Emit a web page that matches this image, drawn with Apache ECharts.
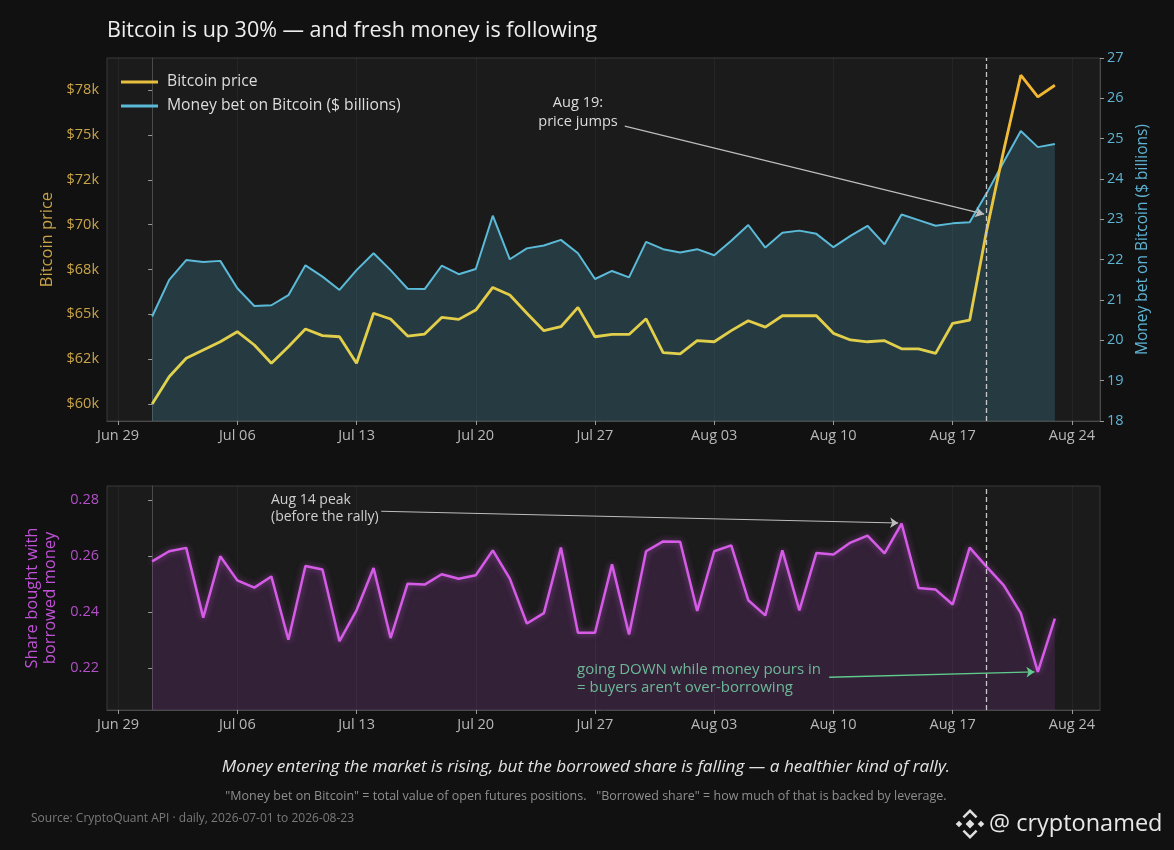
<!DOCTYPE html>
<html><head><meta charset="utf-8">
<script src="https://cdn.jsdelivr.net/npm/echarts@6/dist/echarts.min.js"></script>
<style>html,body{margin:0;padding:0;background:#111111;}#c{width:1174px;height:850px;}</style>
</head><body><div id="c"></div>
<script>
// x positions are day offsets from 2026-07-01
const tickDays = [-2, 5, 12, 19, 26, 33, 40, 47, 54];
const tickLabels = ['Jun 29', 'Jul 06', 'Jul 13', 'Jul 20', 'Jul 27', 'Aug 03', 'Aug 10', 'Aug 17', 'Aug 24'];

const price = [60000, 61520, 62550, 63010, 63470, 64030, 63290, 62270, 63190, 64180,
  63810, 63750, 62270, 65060, 64740, 63790, 63900, 64830, 64720, 65240,
  66500, 66080, 65060, 64090, 64310, 65390, 63750, 63880, 63880, 64750,
  62860, 62790, 63530, 63470, 64090, 64640, 64290, 64920, 64920, 64920,
  63940, 63570, 63470, 63530, 63080, 63070, 62820, 64500, 64680, 69700,
  74160, 78340, 77130, 77780];

const moneyBet = [20.59, 21.50, 21.99, 21.94, 21.97, 21.29, 20.85, 20.87, 21.12, 21.86,
  21.58, 21.25, 21.74, 22.16, 21.74, 21.28, 21.27, 21.85, 21.64, 21.77,
  23.09, 22.01, 22.28, 22.35, 22.49, 22.16, 21.52, 21.72, 21.56, 22.44,
  22.26, 22.18, 22.26, 22.11, 22.47, 22.86, 22.30, 22.67, 22.72, 22.64,
  22.31, 22.59, 22.84, 22.38, 23.12, 22.98, 22.84, 22.90, 22.93, 23.65,
  24.43, 25.19, 24.79, 24.87];

const borrowedShare = [0.2581, 0.2617, 0.2629, 0.2380, 0.2599, 0.2513, 0.2487, 0.2527, 0.2301, 0.2564,
  0.2552, 0.2296, 0.2406, 0.2557, 0.2307, 0.2501, 0.2498, 0.2535, 0.2519, 0.2531,
  0.2620, 0.2519, 0.2359, 0.2396, 0.2630, 0.2326, 0.2326, 0.2570, 0.2320, 0.2617,
  0.2652, 0.2651, 0.2404, 0.2617, 0.2638, 0.2442, 0.2388, 0.2620, 0.2406, 0.2611,
  0.2605, 0.2648, 0.2673, 0.2609, 0.2716, 0.2486, 0.2480, 0.2427, 0.2630, 0.2561,
  0.2495, 0.2396, 0.2186, 0.2376];

const priceTicks = [60000, 62500, 65000, 67500, 70000, 72500, 75000, 77500];
const priceTickLabels = ['$60k', '$62k', '$65k', '$68k', '$70k', '$72k', '$75k', '$78k'];
const shareTicks = [0.22, 0.24, 0.26, 0.28];
const shareTickLabels = ['0.22', '0.24', '0.26', '0.28'];

const eventDay = 49; // Aug 19

const FONT = 'Open Sans';
const TICK_FS = 14.5;
const pts = arr => arr.map((v, i) => [i, v]);
const findLabel = (ticks, labels, v) => {
  for (let i = 0; i < ticks.length; i++) if (Math.abs(ticks[i] - v) < 1e-6 * Math.max(1, Math.abs(v))) return labels[i];
  return '';
};

function xAxis(gridIndex) {
  return {
    type: 'value', gridIndex, min: -2.65, max: 55.65,
    axisLine: { show: true, lineStyle: { color: '#4a4a4a' } },
    axisTick: { show: true, customValues: tickDays, length: 4, lineStyle: { color: '#9a9a9a' } },
    axisLabel: { customValues: tickDays, formatter: v => findLabel(tickDays, tickLabels, v), color: '#b8b8b8', fontSize: TICK_FS, fontFamily: FONT, margin: 7 },
    splitLine: { show: true, customValues: tickDays, lineStyle: { color: 'rgba(255,255,255,0.045)', width: 1 } }
  };
}

const chart = echarts.init(document.getElementById('c'), null, { renderer: 'canvas' });

const option = {
  backgroundColor: '#111111',
  animation: false,
  textStyle: { fontFamily: FONT },
  grid: [
    { left: 107, top: 58, width: 993, height: 363, show: true, backgroundColor: '#1b1b1b', borderColor: '#3a3a3a', borderWidth: 1 },
    { left: 107, top: 486, width: 993, height: 224, show: true, backgroundColor: '#1b1b1b', borderColor: '#3a3a3a', borderWidth: 1 }
  ],
  legend: {
    left: 116, top: 69, orient: 'vertical', itemGap: 8, itemWidth: 37, itemHeight: 3,
    icon: 'rect',
    textStyle: { color: '#dddddd', fontSize: 15.7, fontFamily: FONT, padding: [0, 0, 0, 4] },
    data: [
      { name: 'Bitcoin price', itemStyle: { color: '#e9bf3e' } },
      { name: 'Money bet on Bitcoin ($ billions)', itemStyle: { color: '#5bbad8' } }
    ]
  },
  xAxis: [xAxis(0), xAxis(1)],
  yAxis: [
    {
      type: 'value', gridIndex: 0, position: 'left', min: 59050, max: 79300,
      axisLine: { show: true, lineStyle: { color: '#4a4a4a' } },
      axisTick: { show: true, customValues: priceTicks, length: 4, lineStyle: { color: '#9a9a9a' } },
      axisLabel: { customValues: priceTicks, formatter: v => findLabel(priceTicks, priceTickLabels, v), color: '#c9a448', fontSize: TICK_FS, fontFamily: FONT, margin: 8 },
      splitLine: { show: false },
      name: 'Bitcoin price', nameLocation: 'middle', nameGap: 49, nameRotate: 90,
      nameTextStyle: { color: '#c9a448', fontSize: 16.5, fontFamily: FONT }
    },
    {
      type: 'value', gridIndex: 0, position: 'right', min: 18, max: 27, interval: 1,
      axisLine: { show: true, lineStyle: { color: '#4a4a4a' } },
      axisTick: { show: true, length: 4, lineStyle: { color: '#9a9a9a' } },
      axisLabel: { color: '#5fb3d3', fontSize: TICK_FS, fontFamily: FONT, margin: 7 },
      splitLine: { show: false },
      name: 'Money bet on Bitcoin ($ billions)', nameLocation: 'middle', nameGap: 31, nameRotate: 90,
      nameTextStyle: { color: '#5fb3d3', fontSize: 15.5, fontFamily: FONT }
    },
    {
      type: 'value', gridIndex: 1, position: 'left', min: 0.205, max: 0.285,
      axisLine: { show: true, lineStyle: { color: '#4a4a4a' } },
      axisTick: { show: true, customValues: shareTicks, length: 4, lineStyle: { color: '#9a9a9a' } },
      axisLabel: { customValues: shareTicks, formatter: v => findLabel(shareTicks, shareTickLabels, v), color: '#b34fc8', fontSize: TICK_FS, fontFamily: FONT, margin: 8 },
      splitLine: { show: false },
      name: 'Share bought with\nborrowed money', nameLocation: 'middle', nameGap: 42, nameRotate: 90,
      nameTextStyle: { color: '#c052d6', fontSize: 16.5, fontFamily: FONT, lineHeight: 18 }
    }
  ],
  series: [
    {
      name: 'Money bet on Bitcoin ($ billions)', type: 'line', xAxisIndex: 0, yAxisIndex: 1,
      data: pts(moneyBet), showSymbol: false, z: 2,
      lineStyle: { color: '#5bbad8', width: 2 },
      itemStyle: { color: '#5bbad8' },
      areaStyle: { color: 'rgba(78,172,206,0.31)', origin: 'start' },
      markLine: {
        silent: true, symbol: ['none', 'none'], animation: false,
        label: { show: false },
        lineStyle: { color: '#c8c8c8', type: [5, 3], width: 1.3 },
        data: [{ xAxis: eventDay }]
      }
    },
    {
      name: 'Bitcoin price', type: 'line', xAxisIndex: 0, yAxisIndex: 0,
      data: pts(price), showSymbol: false, z: 3,
      lineStyle: {
        width: 2.8,
        color: new echarts.graphic.LinearGradient(0, 0, 0, 1, [
          { offset: 0, color: '#f4b52f' },
          { offset: 0.45, color: '#e9c640' },
          { offset: 1, color: '#dcd452' }
        ])
      },
      itemStyle: { color: '#e9bf3e' },
      markLine: {
        silent: true, symbol: ['none', 'arrow'], symbolSize: [8, 9], animation: false,
        label: { show: false },
        lineStyle: { color: '#bdbdbd', type: 'solid', width: 1.1 },
        data: [[{ coord: [27.75, 75500] }, { coord: [48.85, 70590] }]]
      }
    },
    {
      name: 'Share bought with borrowed money', type: 'line', xAxisIndex: 1, yAxisIndex: 2,
      data: pts(borrowedShare), showSymbol: false, z: 3,
      lineStyle: { color: '#d65ce8', width: 2.5, shadowBlur: 6, shadowColor: 'rgba(214,92,232,0.55)' },
      itemStyle: { color: '#d65ce8' },
      areaStyle: { color: 'rgba(190,70,215,0.22)', origin: 'start' },
      markLine: {
        silent: true, symbol: ['none', 'none'], animation: false,
        label: { show: false },
        lineStyle: { color: '#c8c8c8', type: [5, 3], width: 1.3 },
        data: [{ xAxis: eventDay }]
      }
    },
    {
      name: 'annotation arrows', type: 'lines', coordinateSystem: 'cartesian2d', xAxisIndex: 1, yAxisIndex: 2,
      symbol: ['none', 'arrow'], symbolSize: 8, silent: true, z: 5, animation: false,
      data: [
        { coords: [[13.45, 0.2760], [43.8, 0.2718]], lineStyle: { color: '#bdbdbd', width: 1.1, type: 'solid', opacity: 1 } },
        { coords: [[39.75, 0.2167], [51.8, 0.2186]], lineStyle: { color: '#5fcb8c', width: 1.3, type: 'solid', opacity: 1 } }
      ]
    }
  ],
  graphic: [
    { type: 'text', left: 107, top: 20, style: { text: 'Bitcoin is up 30% — and fresh money is following', fill: '#eeeeee', font: '21.5px "Open Sans"' } },
    { type: 'text', x: 578, y: 93, style: { text: 'Aug 19:\nprice jumps', fill: '#dcdcdc', font: '14.6px "Open Sans"', align: 'center', lineHeight: 19 } },
    { type: 'text', x: 271, y: 492, style: { text: 'Aug 14 peak\n(before the rally)', fill: '#cfcfcf', font: '14px "Open Sans"', align: 'left', lineHeight: 16.5 } },
    { type: 'text', x: 577, y: 661, style: { text: 'going DOWN while money pours in\n= buyers aren\u2019t over-borrowing', fill: '#5fcb8c', font: '15px "Open Sans"', align: 'left', lineHeight: 17.5 } },
    { type: 'text', x: 586, y: 767, style: { text: 'Money entering the market is rising, but the borrowed share is falling — a healthier kind of rally.', fill: '#e2e2e2', font: 'italic 17.2px "Open Sans"', align: 'center', verticalAlign: 'middle' } },
    { type: 'text', x: 586, y: 796, style: { text: '"Money bet on Bitcoin" = total value of open futures positions.   "Borrowed share" = how much of that is backed by leverage.', fill: '#8e8e8e', font: '12.5px "Open Sans"', align: 'center', verticalAlign: 'middle' } },
    { type: 'text', x: 31, y: 819, style: { text: 'Source: CryptoQuant API · daily, 2026-07-01 to 2026-08-23', fill: '#7a7a7a', font: '12px "Open Sans"', align: 'left', verticalAlign: 'middle' } },
    {
      type: 'group', x: 970, y: 824, scaleX: 1.1, scaleY: 1.1,
      children: [
        { type: 'polygon', shape: { points: [[0, -4], [4, 0], [0, 4], [-4, 0]] }, style: { fill: '#e0e0e0' } },
        { type: 'polygon', shape: { points: [[-10, -3], [-7, 0], [-10, 3], [-13, 0]] }, style: { fill: '#e0e0e0' } },
        { type: 'polygon', shape: { points: [[10, -3], [13, 0], [10, 3], [7, 0]] }, style: { fill: '#e0e0e0' } },
        { type: 'polyline', shape: { points: [[-6, -6], [0, -12], [6, -6]] }, style: { stroke: '#e0e0e0', lineWidth: 2.2, fill: null } },
        { type: 'polyline', shape: { points: [[-6, 6], [0, 12], [6, 6]] }, style: { stroke: '#e0e0e0', lineWidth: 2.2, fill: null } }
      ]
    },
    { type: 'text', x: 989, y: 824, style: { text: '@ cryptonamed', fill: '#e8e8e8', font: '23.5px "Open Sans"', align: 'left', verticalAlign: 'middle' } }
  ]
};
chart.setOption(option);
</script></body></html>
